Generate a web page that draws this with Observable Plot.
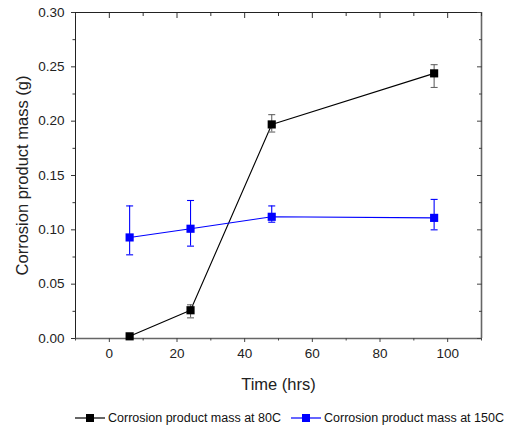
<!DOCTYPE html>
<html>
<head>
<meta charset="utf-8">
<script src="https://cdn.jsdelivr.net/npm/d3@7"></script>
<script src="https://cdn.jsdelivr.net/npm/@observablehq/plot@0.6"></script>
<style>
  html, body { margin: 0; padding: 0; background: #fff; }
  body { width: 511px; font-family: "Liberation Sans", Arial, sans-serif; }
  #legend { height: 32px; display: flex; align-items: center; justify-content: flex-start;
            padding-left: 74px; padding-top: 4px; font-size: 12.5px; color: #111; box-sizing: border-box;
            white-space: nowrap; width: 520px; }
  #legend .item { display: flex; align-items: center; margin-right: 9px; flex-shrink: 0; }
  #legend svg { margin-right: 2px; flex-shrink: 0; }
</style>
</head>
<body>
<div id="chart"></div>
<div id="legend"></div>
<script>
// Exposure time (hours)
const hours = [6, 24, 48, 96];

// Corrosion product mass at 80C (g) with error range
const mass80 = [0.002, 0.026, 0.197, 0.244];
const mass80Low = [0.001, 0.019, 0.190, 0.231];
const mass80High = [0.004, 0.031, 0.206, 0.252];

// Corrosion product mass at 150C (g) with error range
const mass150 = [0.093, 0.101, 0.112, 0.111];
const mass150Low = [0.077, 0.085, 0.107, 0.100];
const mass150High = [0.122, 0.127, 0.122, 0.128];

const seriesNames = ["Corrosion product mass at 80C", "Corrosion product mass at 150C"];
const seriesColors = ["#000000", "#0000ff"];
const errorColors = ["#666666", "#0000ff"];

const xMajor = [0, 20, 40, 60, 80, 100];
const xMinor = [-10, 10, 30, 50, 70, 90, 110];
const yMajor = [0, 0.05, 0.10, 0.15, 0.20, 0.25, 0.30];
const yMinor = [0.025, 0.075, 0.125, 0.175, 0.225, 0.275];

const rows = [];
hours.forEach((h, i) => {
  rows.push({series: 0, t: h, v: mass80[i], lo: mass80Low[i], hi: mass80High[i]});
});
hours.forEach((h, i) => {
  rows.push({series: 1, t: h, v: mass150[i], lo: mass150Low[i], hi: mass150High[i]});
});

// short horizontal cap drawn at each error-bar end
const capSymbol = {
  draw(context) { context.moveTo(-3.5, 0); context.lineTo(3.5, 0); }
};

const caps = rows.flatMap(d => [{...d, e: d.lo}, {...d, e: d.hi}]);
const noText = () => "";

const chart = Plot.plot({
  width: 511,
  height: 400,
  marginTop: 12,
  marginLeft: 75,
  marginRight: 30,
  marginBottom: 62,
  style: {fontFamily: "'Liberation Sans', Arial, sans-serif", fontSize: "13.5px", color: "#222"},
  x: {domain: [-10, 110]},
  y: {domain: [0, 0.30]},
  marks: [
    Plot.frame({stroke: "#222", strokeWidth: 1}),
    Plot.ruleY([0], {stroke: "#666", strokeWidth: 1.6}),
    Plot.ruleX([110], {stroke: "#666", strokeWidth: 1.6}),
    // bottom axis
    Plot.axisX({anchor: "bottom", ticks: xMajor, tickSize: 4, tickPadding: 6, stroke: "#444",
                fontSize: 13.5, label: null}),
    Plot.axisX({anchor: "bottom", ticks: xMinor, tickSize: 2.5, tickFormat: noText, label: null, stroke: "#444"}),
    Plot.axisX({anchor: "bottom", ticks: [], label: "Time (hrs)", labelAnchor: "center", labelArrow: "none",
                labelOffset: 51, fontSize: 16.5}),
    // top axis, ticks pointing inward
    Plot.axisX({anchor: "top", ticks: xMajor, tickSize: -5, tickFormat: noText, label: null, stroke: "#333"}),
    Plot.axisX({anchor: "top", ticks: xMinor, tickSize: -3, tickFormat: noText, label: null, stroke: "#333"}),
    // left axis
    Plot.axisY({anchor: "left", ticks: yMajor, tickSize: 4, tickPadding: 7, tickFormat: d3.format(".2f"),
                fontSize: 13.5, stroke: "#333", label: null}),
    Plot.axisY({anchor: "left", ticks: yMinor, tickSize: 2.5, tickFormat: noText, label: null, stroke: "#333"}),
    Plot.axisY({anchor: "left", ticks: [], label: "Corrosion product mass (g)", labelAnchor: "center",
                labelArrow: "none", labelOffset: 59, fontSize: 16.5}),
    // right axis, ticks pointing inward
    Plot.axisY({anchor: "right", ticks: yMajor, tickSize: -5, tickFormat: noText, label: null, stroke: "#444"}),
    Plot.axisY({anchor: "right", ticks: yMinor, tickSize: -3, tickFormat: noText, label: null, stroke: "#444"}),
    // connecting lines
    Plot.line(rows, {x: "t", y: "v", z: "series", stroke: d => seriesColors[d.series], strokeWidth: 1.1}),
    // error bars
    Plot.ruleX(rows, {x: "t", y1: "lo", y2: "hi", stroke: d => errorColors[d.series], strokeWidth: 1.1}),
    Plot.dot(caps, {x: "t", y: "e", symbol: capSymbol, stroke: d => errorColors[d.series], strokeWidth: 1.1, fill: "none"}),
    // square markers
    Plot.dot(rows, {x: "t", y: "v", symbol: "square", r: 4.6, fill: d => seriesColors[d.series], stroke: "none"})
  ]
});
// axis titles are larger than the tick labels
d3.select(chart).selectAll('g[aria-label="x-axis label"], g[aria-label="y-axis label"]')
  .attr("font-size", "16.5px").selectAll("text").attr("font-size", "16.5px");
document.getElementById("chart").append(chart);

// legend: line + square swatch followed by the series name
const legend = d3.select("#legend");
seriesNames.forEach((name, i) => {
  const item = legend.append("div").attr("class", "item");
  const sw = item.append("svg").attr("width", 32).attr("height", 12);
  sw.append("line").attr("x1", 1).attr("x2", 31).attr("y1", 6).attr("y2", 6)
    .attr("stroke", seriesColors[i]).attr("stroke-width", 1.2);
  sw.append("rect").attr("x", 12).attr("y", 2).attr("width", 8).attr("height", 8).attr("fill", seriesColors[i]);
  item.append("span").text(name);
});
</script>
</body>
</html>
